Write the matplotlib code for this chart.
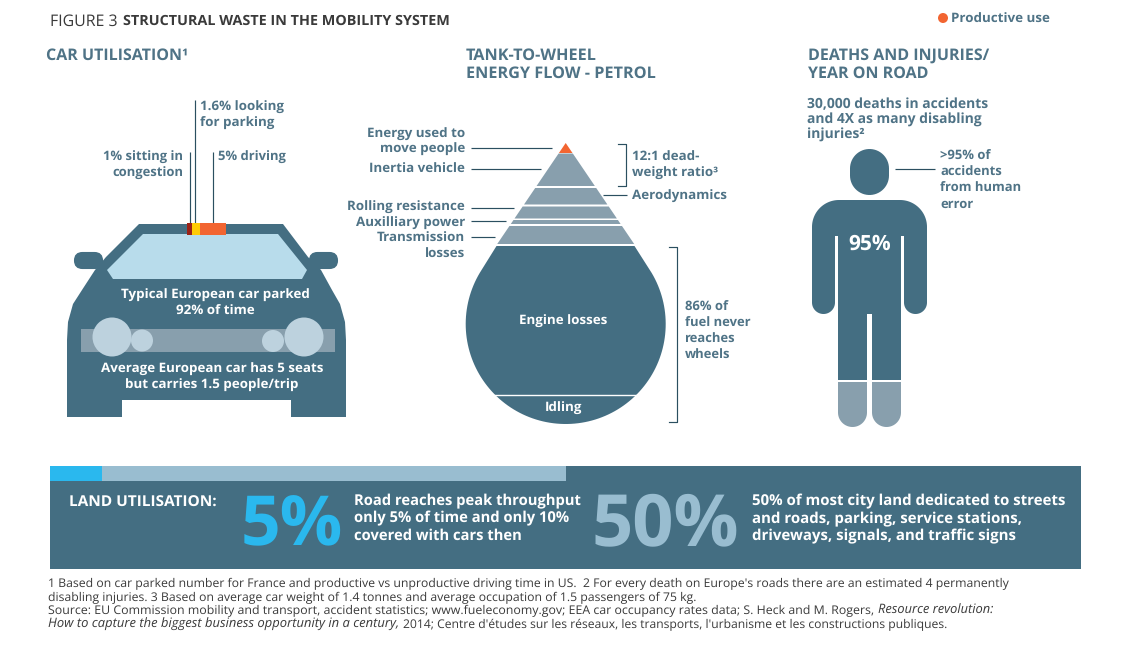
import numpy as np
import matplotlib
matplotlib.use("Agg")
import matplotlib.pyplot as plt
from matplotlib.patches import Polygon, Rectangle, Circle, FancyBboxPatch

plt.rcParams["text.hinting"] = "none"
plt.rcParams["text.hinting_factor"] = 8

# ---- data ----
car_use_labels = ["1% sitting in congestion", "1.6% looking for parking", "5% driving"]
car_use_shares = [1.0, 1.6, 5.0]
land_shares = [5, 50]
person_share_label = "95%"

DARK = "#446E82"
TXT = "#4F7386"
GREY = "#889FAD"
LINE = "#2B4F60"
ORANGE = "#F26531"
FONT = "Open Sans"
BOLD = "bold"
S = 9.65
HEAD = 11.5
NOTE = "#3A3A3A"

W, H = 1131, 652
fig = plt.figure(figsize=(W / 100, H / 100), dpi=100)
ax = fig.add_axes([0, 0, 1, 1])
ax.set_xlim(0, W)
ax.set_ylim(H, 0)
ax.axis("off")


def arc(cx, cy, r, a0, a1, n=30):
    t = np.radians(np.linspace(a0, a1, n))
    return np.column_stack([cx + r * np.cos(t), cy + r * np.sin(t)])


def poly(pts, color, z=2):
    ax.add_patch(Polygon(np.asarray(pts), closed=True, fc=color, ec="none", lw=0, zorder=z))


def lines(x, ys, strs, color=TXT, size=S, ha="left", weight=BOLD, **kw):
    for y, s in zip(ys, strs):
        ax.text(x, y + 0.5 * size, s, color=color, fontsize=size, ha=ha, va="baseline", family=FONT, weight=weight,
                zorder=6, **kw)


def seg(x0, y0, x1, y1):
    ax.plot([x0, x1], [y0, y1], color=LINE, lw=0.85, solid_capstyle="butt", zorder=3)


# ---- header ----
lines(50, [20], ["FIGURE 3"], color=NOTE, size=11.4, weight="normal")
lines(123, [20], ["STRUCTURAL WASTE IN THE MOBILITY SYSTEM"], color=NOTE, size=10.4)
ax.add_patch(Circle((943, 18), 5, fc=ORANGE, ec="none"))
lines(951, [18], ["Productive use"])
lines(46, [54], ["CAR UTILISATION¹"], size=HEAD)
lines(466, [54, 72], ["TANK-TO-WHEEL", "ENERGY FLOW - PETROL"], size=HEAD + 0.2)
lines(808, [54, 72], ["DEATHS AND INJURIES/", "YEAR ON ROAD"], size=HEAD)

# ---- car ----
for mx in (75, 310):
    ax.add_patch(FancyBboxPatch((mx, 253), 27, 15, boxstyle="round,pad=0,rounding_size=7.5", fc=DARK, ec=DARK, lw=1.5,
                                zorder=2))
poly([(139, 224), (283, 224), (308, 257), (321, 270), (332, 290), (340, 304), (345, 322), (346, 340), (346, 417),
      (291, 417), (291, 400), (122, 400), (122, 417), (67, 417), (67, 340), (68, 322), (73, 304), (82, 290), (95, 270),
      (106, 257)], DARK)
poly([(143, 234), (278, 234), (307, 270), (302, 279), (113, 279), (107, 270)], "#B8DCEB", 3)
ax.add_patch(Rectangle((81, 329), 254, 23, fc=GREY, ec="none", zorder=3))
for cx, cy, r in [(112, 337, 19.5), (142, 340.5, 11), (304, 337, 19.5), (273, 341, 11)]:
    ax.add_patch(Circle((cx, cy), r, fc="#BDD2DE", ec="none", zorder=4))

left = 187
px_per_pct = 5.1
for share, col in zip(car_use_shares, ["#9B2116", "#FFCB05", ORANGE]):
    ax.add_patch(Rectangle((left, 223), share * px_per_pct, 12, fc=col, ec="none", zorder=5))
    left += share * px_per_pct
seg(195, 100, 195, 223)
seg(189.5, 152, 189.5, 223)
seg(213, 152, 213, 223)
lines(200, [106, 122], ["1.6% looking", "for parking"])
lines(183, [156, 172], ["1% sitting in", "congestion"], ha="right", size=9.4)
lines(218, [156], ["5% driving"], size=9.4)
lines(215, [294, 310], ["Typical European car parked", "92% of time"], color="white", ha="center")
lines(212, [368, 384], ["Average European car has 5 seats", "but carries 1.5 people/trip"], color="white", ha="center")

# ---- energy drop ----
apex_x, apex_y, slope = 565.7, 143, 0.678
bands = [(143, 153, ORANGE), (153.5, 186, GREY), (188, 204.5, GREY), (206.5, 218.5, GREY), (220, 224, GREY),
         (226, 244, GREY)]
for y0, y1, col in bands:
    a, b = (y0 - apex_y) * slope, (y1 - apex_y) * slope
    poly([(apex_x - a, y0), (apex_x + a, y0), (apex_x + b, y1), (apex_x - b, y1)], col)
drop = np.vstack([[(496.5, 246), (634.5, 246)], arc(565.7, 324, 100, -30.7, 210.7, 120)])
poly(drop, DARK)
ax.plot([494, 637], [395, 395], color="white", lw=1, zorder=3)
for y, x1 in [(148, 552), (169, 541), (208, 514), (221, 506), (237, 495)]:
    seg(471, y, x1, y)
seg(603, 195, 627, 195)
ax.plot([618, 626, 626, 618], [144, 144, 186, 186], color=LINE, lw=0.85, zorder=3)
ax.plot([669, 677, 677, 669], [247, 247, 422, 422], color=LINE, lw=0.85, zorder=3)
lines(465, [133, 148, 168, 206, 222, 237, 253],
      ["Energy used to", "move people", "Inertia vehicle", "Rolling resistance", "Auxilliary power", "Transmission",
       "losses"], ha="right")
lines(632, [156, 172, 195], ["12:1 dead-", "weight ratio³", "Aerodynamics"])
lines(685, [306, 322, 338, 354], ["86% of", "fuel never", "reaches", "wheels"], size=9.4)
lines(563.5, [320], ["Engine losses"], color="white", ha="center")
lines(564, [407], ["Idling"], color="white", ha="center")

# ---- person ----
lines(807, [103, 119, 134], ["30,000 deaths in accidents", "and 4X as many disabling", "injuries²"], size=10)
lines(940, [155, 171, 187, 203], [">95% of", "accidents", "from human", "error"], size=9.4)
seg(895, 169, 935, 169)
poly(np.vstack([arc(869.5, 168.5, 19.5, 180, 360), arc(869.5, 175.5, 19.5, 0, 180)]), DARK)
body = np.vstack([arc(839, 227, 27, 180, 270), arc(900, 227, 27, 270, 360), arc(915.5, 302.5, 11.5, 0, 180),
                  [(904, 236), (901, 236), (901, 380), (872, 380), (872, 314), (867, 314), (867, 380), (838, 380),
                   (838, 236), (835, 236)], arc(823.5, 302.5, 11.5, 0, 180)])
poly(body, DARK)
for fx in (838, 872):
    poly(np.vstack([[(fx, 382), (fx + 29, 382)], arc(fx + 14.5, 412.5, 14.5, 0, 180)]), GREY)
lines(869.5, [242], [person_share_label], color="white", size=15, ha="center")

# ---- land panel ----
panel_x, panel_w = 50, 1031
ax.add_patch(Rectangle((panel_x, 466), panel_w, 103, fc=DARK, ec="none", zorder=1))
ax.add_patch(Rectangle((panel_x, 466), panel_w * land_shares[1] / 100, 15, fc="#99BDD0", ec="none", zorder=2))
ax.add_patch(Rectangle((panel_x, 466), panel_w * land_shares[0] / 100, 15, fc="#2AB8EE", ec="none", zorder=2))
lines(69, [501], ["LAND UTILISATION:"], color="white", size=11.1)
ax.text(241, 545, f"{land_shares[0]}%", color="#2AB8EE", fontsize=50, va="baseline", family=FONT, weight=BOLD, zorder=6)
ax.text(591, 545, f"{land_shares[1]}%", color="#99BDD0", fontsize=52, va="baseline", family=FONT, weight=BOLD, zorder=6)
lines(354, [500, 517, 535], ["Road reaches peak throughput", "only 5% of time and only 10%", "covered with cars then"],
      color="white", size=10.6)
lines(752, [500, 518, 535], ["50% of most city land dedicated to streets", "and roads, parking, service stations,",
                             "driveways, signals, and traffic signs"], color="white", size=10.8)

# ---- notes ----
note_lines = [
    (48, 587, "1 Based on car parked number for France and productive vs unproductive driving time in US.  2 For every death on Europe's roads there are an estimated 4 permanently", 8.85, "normal"),
    (48, 601, "disabling injuries. 3 Based on average car weight of 1.4 tonnes and average occupation of 1.5 passengers of 75 kg.", 8.85, "normal"),
    (48, 614, "Source: EU Commission mobility and transport, accident statistics; www.fueleconomy.gov; EEA car occupancy rates data; S. Heck and M. Rogers,", 8.93, "normal"),
    (878, 614, "Resource revolution:", 9.3, "italic"),
    (48, 628, "How to capture the biggest business opportunity in a century,", 9.35, "italic"),
    (403, 628, "2014; Centre d'études sur les réseaux, les transports, l'urbanisme et les constructions publiques.", 8.72, "normal"),
]
for x, y, s, size, style in note_lines:
    ax.text(x, y, s, fontsize=size, color=NOTE, va="baseline", family=FONT, style=style)

fig.savefig("out.png", dpi=100, facecolor="white")
